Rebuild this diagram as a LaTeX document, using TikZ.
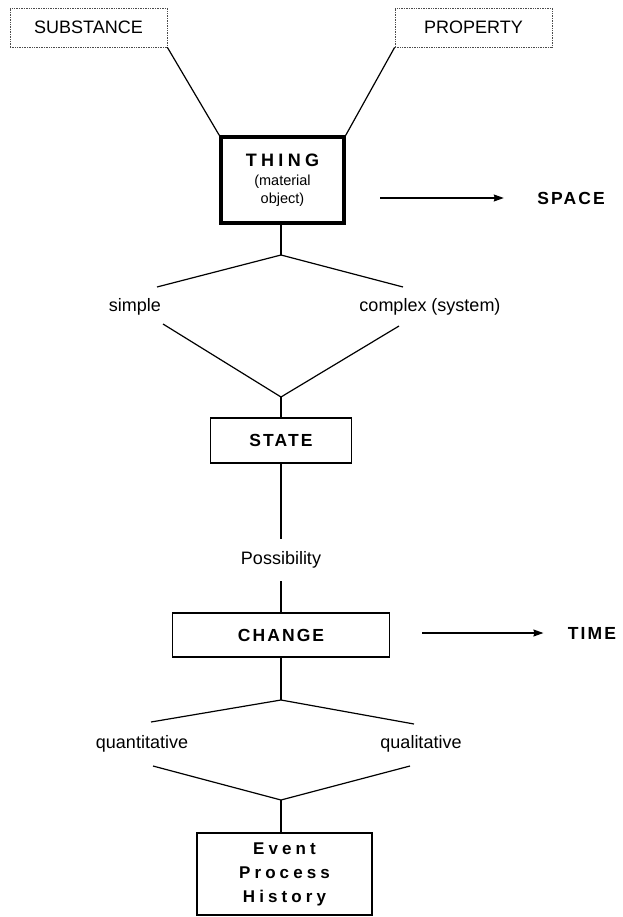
\documentclass[tikz,border=0pt]{standalone}
\usepackage{fontspec}
\setmainfont{Liberation Sans}
\newfontfamily\spaced[LetterSpace=12]{Liberation Sans}
\newfontfamily\widespaced[LetterSpace=24]{Liberation Sans}
\usetikzlibrary{positioning}
\usetikzlibrary{arrows.meta}
\tikzset{
  origin/.style={rectangle,draw=black!70,densely dotted,line width=0.7pt,
                 minimum width=157pt,minimum height=39pt,
                 font=\fontsize{18}{20}\selectfont},
  thingbox/.style={rectangle,draw,line width=3.5pt,align=center,
                   minimum width=123pt,minimum height=86pt,
                   font=\fontsize{14.5}{18}\selectfont},
  stagebox/.style={rectangle,draw,line width=1.2pt,align=center,
                   font=\spaced\bfseries\fontsize{17.5}{24}\selectfont},
  branch/.style={font=\fontsize{18}{20}\selectfont},
  dimension/.style={font=\spaced\bfseries\fontsize{17.5}{20}\selectfont},
  link/.style={line width=1.2pt},
  flowarrow/.style={>={Stealth[length=10pt,width=7pt,inset=1pt]},line width=1.2pt,->},
}

\begin{document}
\begin{tikzpicture}[x=1pt,y=-1pt]
    \useasboundingbox (0,0) rectangle (622,917);

    % Origins of the thing
    \node[origin] (subst) at (88.5,27.5)  {SUBSTANCE};
    \node[origin] (prop)  at (473.5,27.5) {PROPERTY};

    % Thing
    \node[thingbox] (thing) at (282.5,180)
        {{\widespaced\bfseries\fontsize{18}{22}\selectfont THING}\\[1pt]
         (material\\object)};
    \draw[link] (subst.south east) -- (thing.north west);
    \draw[link] (prop.south west)  -- (thing.north east);

    \node[dimension] (space) at (571,198) {SPACE};
    \coordinate (spacetail) at (380,198);
    \draw[flowarrow] (spacetail) -- (space.west) [shorten >=30pt];

    % simple or complex
    \coordinate (fork1) at (281,255);
    \coordinate (simpletop)  at (157,287);
    \coordinate (complextop) at (403,287);
    \node[branch] (simple)  at (135,307) {simple};
    \node[branch] (complex) at (430,307) {complex (system)};
    \coordinate (simplebot)  at (163,324);
    \coordinate (complexbot) at (399,326);
    \coordinate (join1) at (281,397);
    \draw[link] (fork1 |- thing.south) -- (fork1);
    \draw[link] (simpletop) -- (fork1) -- (complextop);
    \draw[link] (simplebot) -- (join1) -- (complexbot);

    % State
    \node[stagebox,minimum width=141pt,minimum height=45pt] (state) at (281,440.5) {STATE};
    \draw[link] (join1) -- (state.north);

    \node[branch,minimum height=42pt] (poss) at (281,560) {Possibility};
    \draw[link] (state.south) -- (poss.north);

    % Change
    \node[stagebox,minimum width=217pt,minimum height=44pt] (change) at (281,635) {CHANGE};
    \draw[link] (poss.south) -- (change.north);

    \node[dimension] (time) at (592,633) {TIME};
    \coordinate (timetail) at (422,633);
    \draw[flowarrow] (timetail) -- (time.west) [shorten >=21pt];

    % quantitative or qualitative
    \coordinate (fork2) at (281,700);
    \coordinate (quanttop) at (151,722);
    \coordinate (qualtop)  at (414,724);
    \node[branch] (quant) at (142,744) {quantitative};
    \node[branch] (qual)  at (421,744) {qualitative};
    \coordinate (quantbot) at (153,766);
    \coordinate (qualbot)  at (410,766);
    \coordinate (join2) at (281,800);
    \draw[link] (change.south) -- (fork2);
    \draw[link] (quanttop) -- (fork2) -- (qualtop);
    \draw[link] (quantbot) -- (join2) -- (qualbot);

    % Outcome
    \node[stagebox,minimum width=175pt,minimum height=82pt,
          font=\widespaced\bfseries\fontsize{17}{24}\selectfont]
        (outcome) at (284.5,874) {Event\\Process\\History};
    \draw[link] (join2) -- (join2 |- outcome.north);
\end{tikzpicture}
\end{document}
